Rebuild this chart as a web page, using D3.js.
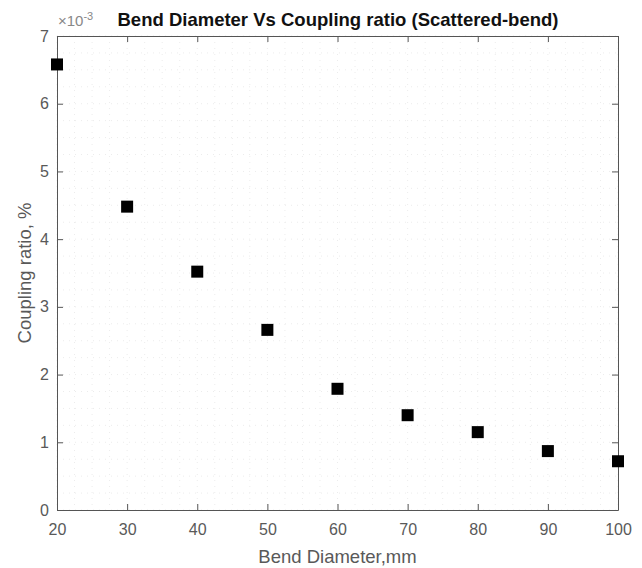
<!DOCTYPE html>
<html>
<head>
<meta charset="utf-8">
<script src="https://cdn.jsdelivr.net/npm/d3@7"></script>
<style>
  body { margin: 0; background: #fff; }
  text { font-family: "Liberation Sans", Arial, sans-serif; }
</style>
</head>
<body>
<div class="chart"></div>
<script>
'use strict';

// Data
const diameters = [20, 30, 40, 50, 60, 70, 80, 90, 100];
const coupling = [6.58, 4.48, 3.52, 2.66, 1.79, 1.40, 1.15, 0.87, 0.72]; // x 10^-3
const xTicks = [20, 30, 40, 50, 60, 70, 80, 90, 100];
const yTicks = [0, 1, 2, 3, 4, 5, 6, 7];

// Canvas size
const W = 642, H = 568;
const margin = {top: 36, left: 57, right: 24, bottom: 58};
const w = W - margin.left - margin.right;
const h = H - margin.top - margin.bottom;

const svg = d3.select(".chart")
  .append("svg")
  .attr("width", W)
  .attr("height", H);

const g = svg.append("g")
  .attr("transform", `translate(${margin.left},${margin.top})`);

const xScale = d3.scaleLinear().domain([20, 100]).range([0, w]);
const yScale = d3.scaleLinear().domain([0, 7]).range([h, 0]);

// faint dotted grid
const minorX = d3.range(20, 100.01, 2.5);
const minorY = d3.range(0, 7.01, 0.25);
g.append("g").selectAll("line")
  .data(minorX)
  .enter().append("line")
  .attr("x1", d => xScale(d)).attr("x2", d => xScale(d))
  .attr("y1", 0).attr("y2", h)
  .attr("stroke", "#ececec")
  .attr("stroke-dasharray", "1,5");
g.append("g").selectAll("line")
  .data(minorY)
  .enter().append("line")
  .attr("y1", d => yScale(d)).attr("y2", d => yScale(d))
  .attr("x1", 0).attr("x2", w)
  .attr("stroke", "#ececec")
  .attr("stroke-dasharray", "1,5");

// axes (box with ticks inside on all sides)
const axColor = "#555";
function styleAxis(sel) {
  sel.select(".domain").attr("stroke", axColor);
  sel.selectAll(".tick line").attr("stroke", axColor);
  sel.selectAll(".tick text")
    .attr("fill", "#595959")
    .style("font-size", "16px");
}

g.append("g")
  .attr("transform", `translate(0,${h})`)
  .call(d3.axisBottom(xScale).tickValues(xTicks).tickSizeInner(-6).tickSizeOuter(0).tickPadding(14))
  .call(styleAxis);
g.append("g")
  .call(d3.axisTop(xScale).tickValues(xTicks).tickSizeInner(-6).tickSizeOuter(0).tickFormat(""))
  .call(styleAxis);
g.append("g")
  .call(d3.axisLeft(yScale).tickValues(yTicks).tickFormat(d3.format("d")).tickSizeInner(-6).tickSizeOuter(0).tickPadding(8))
  .call(styleAxis);
g.append("g")
  .attr("transform", `translate(${w},0)`)
  .call(d3.axisRight(yScale).tickValues(yTicks).tickSizeInner(-6).tickSizeOuter(0).tickFormat(""))
  .call(styleAxis);

// markers
const ms = 12;
g.append("g").selectAll("rect")
  .data(diameters)
  .enter().append("rect")
  .attr("x", (d, i) => xScale(d) - ms / 2)
  .attr("y", (d, i) => yScale(coupling[i]) - ms / 2)
  .attr("width", ms)
  .attr("height", ms)
  .attr("fill", "#000");

// exponent label
const expo = svg.append("text")
  .attr("x", margin.left + 1)
  .attr("y", margin.top - 10)
  .attr("fill", "#888")
  .style("font-size", "15px");
expo.append("tspan").text("\u00d710");
expo.append("tspan").attr("dy", -6).style("font-size", "11px").text("-3");

// title
svg.append("text")
  .attr("x", 338)
  .attr("y", 26)
  .attr("text-anchor", "middle")
  .style("font-size", "18.5px")
  .style("font-weight", "bold")
  .attr("fill", "#111")
  .text("Bend Diameter Vs Coupling ratio (Scattered-bend)");

// axis labels
svg.append("text")
  .attr("x", margin.left + w / 2)
  .attr("y", H - 5)
  .attr("text-anchor", "middle")
  .attr("fill", "#595959")
  .style("font-size", "18.5px")
  .text("Bend Diameter,mm");
svg.append("text")
  .attr("transform", `translate(31,${margin.top + h / 2}) rotate(-90)`)
  .attr("text-anchor", "middle")
  .attr("fill", "#595959")
  .style("font-size", "18.5px")
  .text("Coupling ratio, %");
</script>
</body>
</html>
